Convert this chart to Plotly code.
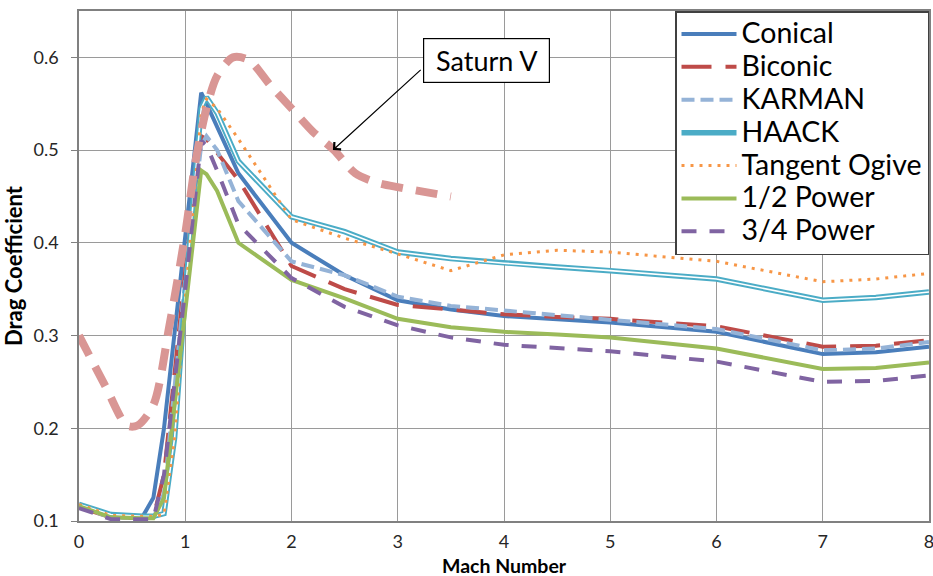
import plotly.graph_objects as go

# ---- data ----
mach = [0, 0.3, 0.6, 0.7, 0.8, 0.9, 1.0, 1.15, 1.2, 1.3, 1.5, 2, 2.5, 3, 3.5, 4, 4.5, 5, 6, 7, 7.5, 8]
conical = [0.118, 0.106, 0.105, 0.125, 0.200, 0.303, 0.407, 0.562, 0.550, 0.525, 0.475, 0.400, 0.365, 0.338, 0.328, 0.321, 0.317, 0.314, 0.304, 0.280, 0.282, 0.288]
biconic = [0.115, 0.104, 0.103, 0.104, 0.150, 0.260, 0.370, 0.515, 0.512, 0.497, 0.468, 0.375, 0.350, 0.333, 0.328, 0.323, 0.320, 0.318, 0.310, 0.288, 0.289, 0.295]
karman = [0.115, 0.104, 0.103, 0.103, 0.130, 0.240, 0.360, 0.505, 0.515, 0.500, 0.445, 0.380, 0.365, 0.342, 0.332, 0.327, 0.322, 0.317, 0.307, 0.284, 0.286, 0.293]
haack = [0.118, 0.107, 0.105, 0.105, 0.108, 0.190, 0.345, 0.545, 0.557, 0.540, 0.488, 0.428, 0.412, 0.390, 0.383, 0.378, 0.374, 0.370, 0.361, 0.338, 0.341, 0.347]
tangent_ogive = [0.118, 0.106, 0.105, 0.105, 0.107, 0.190, 0.340, 0.540, 0.555, 0.545, 0.512, 0.425, 0.405, 0.388, 0.370, 0.387, 0.392, 0.390, 0.380, 0.358, 0.361, 0.367]
half_power = [0.116, 0.104, 0.103, 0.103, 0.125, 0.225, 0.330, 0.478, 0.474, 0.456, 0.400, 0.360, 0.340, 0.318, 0.309, 0.304, 0.301, 0.298, 0.286, 0.264, 0.265, 0.271]
three_quarter_power = [0.114, 0.102, 0.102, 0.102, 0.150, 0.250, 0.350, 0.510, 0.505, 0.478, 0.420, 0.362, 0.331, 0.311, 0.298, 0.290, 0.286, 0.283, 0.272, 0.250, 0.251, 0.257]

saturn_mach = [0, 0.25, 0.45, 0.55, 0.7, 0.85, 1.0, 1.1, 1.2, 1.3, 1.45, 1.6, 1.8, 2.0, 2.2, 2.4, 2.6, 2.8, 3.0, 3.25, 3.5]
saturn_v = [0.300, 0.245, 0.203, 0.203, 0.225, 0.310, 0.410, 0.490, 0.545, 0.580, 0.600, 0.597, 0.570, 0.545, 0.520, 0.500, 0.475, 0.465, 0.460, 0.455, 0.450]

y_ticks = [0.1, 0.2, 0.3, 0.4, 0.5, 0.6]
x_ticks = [0, 1, 2, 3, 4, 5, 6, 7, 8]

FONT = "Lato"
LEG = '<span style="font-size:28.5px">{}</span>'
fig = go.Figure()

def add(name, y, color, width, dash="solid"):
    fig.add_trace(go.Scatter(x=mach, y=y, name=LEG.format(name), mode="lines",
                             line=dict(color=color, width=width, dash=dash)))

add("Conical", conical, "#4A7EBB", 4)
add("Biconic", biconic, "#BE4B48", 4, "30px,14px")
add("KARMAN", karman, "#95B3D7", 4, "13px,6px")
add("HAACK", haack, "#4BACC6", 5.5)
fig.add_trace(go.Scatter(x=mach, y=haack, mode="lines", showlegend=False, hoverinfo="skip",
                         line=dict(color="white", width=1.6)))
add("Tangent Ogive", tangent_ogive, "#F79646", 3, "3px,6px")
add("1/2 Power", half_power, "#9BBB59", 4)
add("3/4 Power", three_quarter_power, "#8064A2", 4, "15px,13px")

fig.add_trace(go.Scatter(x=saturn_mach, y=saturn_v, name="Saturn V", mode="lines", showlegend=False,
                         line=dict(color="#D99694", width=8, dash="22px,13px", shape="spline", smoothing=0.8)))

# Saturn V label box and arrow
fig.add_annotation(x=2.39, y=0.5, ax=3.23, ay=0.588, xref="x", yref="y", axref="x", ayref="y",
                   text="", showarrow=True, arrowhead=4, arrowsize=1.6, arrowwidth=1.2, arrowcolor="black")
fig.add_annotation(x=(423 - 79) / 106.25, y=0.1 + (521 - 60) / 928, xref="x", yref="y", xanchor="left",
                   yanchor="middle", text="&nbsp;Saturn V&nbsp;", showarrow=False,
                   font=dict(family=FONT, size=27, color="black"),
                   bordercolor="black", borderwidth=1.2, borderpad=5, bgcolor="white")

# x-axis title placed just under the tick labels
fig.add_annotation(x=0.5, y=-(565 - 521) / 510, xref="paper", yref="paper", xanchor="center", yanchor="middle",
                   text="<b>Mach Number</b>", showarrow=False, font=dict(family=FONT, size=19.5, color="black"))

grid = "#9A9A9A"
fig.update_layout(
    width=933, height=576,
    margin=dict(l=79, r=4, t=11, b=55, autoexpand=False),
    paper_bgcolor="white", plot_bgcolor="white",
    font=dict(family=FONT, color="#262626"),
    showlegend=True,
    legend=dict(x=1, xanchor="right", y=1.0, yanchor="top",
                bgcolor="white", bordercolor="#404040", borderwidth=1.5,
                font=dict(family=FONT, size=23, color="black"),
                itemwidth=55, tracegroupgap=0),
    xaxis=dict(range=[0, 8], tickvals=x_ticks, showgrid=True, gridcolor=grid, gridwidth=1.2,
               showline=True, linecolor="#808080", linewidth=1.5, mirror=True, zeroline=False,
               automargin=False, ticks="", ticklabelstandoff=4, ticklabeloverflow="allow",
               tickfont=dict(family=FONT, size=18, color="#262626")),
    yaxis=dict(range=[0.1, 0.65], tickvals=y_ticks, ticktext=[f"{v:.1f}" for v in y_ticks],
               showgrid=True, gridcolor=grid, gridwidth=1.2,
               showline=True, linecolor="#808080", linewidth=1.5, mirror=True, zeroline=False,
               automargin=False, ticks="outside", ticklen=6, tickcolor="#808080", ticklabelstandoff=9,
               tickfont=dict(family=FONT, size=18, color="#262626"),
               title=dict(text="<b>Drag Coefficient</b>", font=dict(family=FONT, size=22, color="black"), standoff=6)),
)

fig.write_html("out.html")
